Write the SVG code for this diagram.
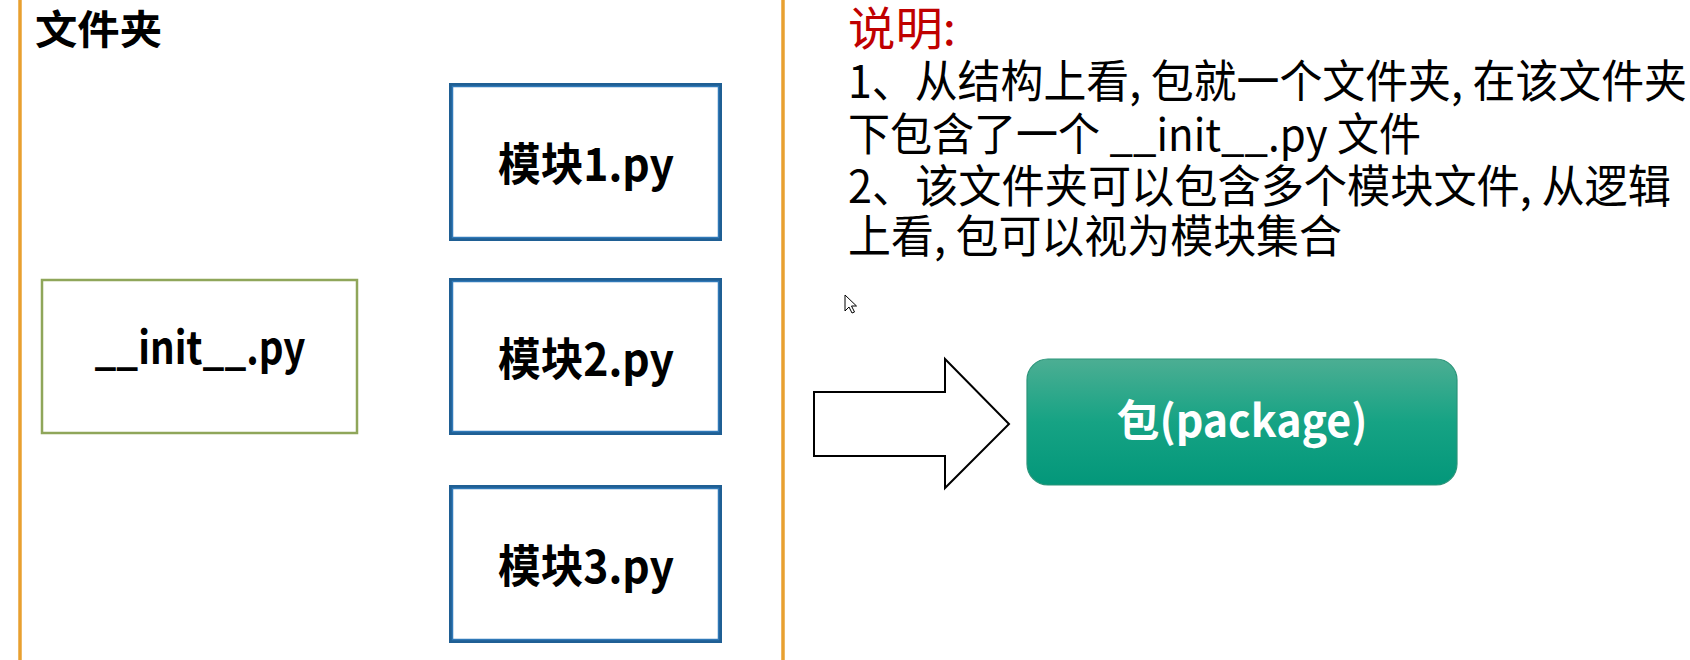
<svg xmlns="http://www.w3.org/2000/svg" width="1690" height="660" viewBox="0 0 1690 660">
  <defs>
    <style>
      .cjk { font-family: "Noto Sans CJK SC", "Noto Sans", sans-serif; }
      .bold { font-weight: bold; }
      .mod { fill: #ffffff; stroke: #1F5F94; stroke-width: 4; }
      .modin { fill: none; stroke: #3079B8; stroke-width: 1.5; }
      .lbl { font-size: 45px; font-weight: bold; fill: #000; text-anchor: middle; }
      .desc { font-size: 45px; fill: #000; }
      .vline { stroke: #E8A030; stroke-width: 3.5; }
    </style>
    <linearGradient id="teal" x1="0" y1="0" x2="0" y2="1">
      <stop offset="0" stop-color="#4CAE93"/>
      <stop offset="0.5" stop-color="#16A384"/>
      <stop offset="1" stop-color="#03977A"/>
    </linearGradient>
  </defs>
  <rect x="0" y="0" width="1690" height="660" fill="#ffffff"/>

  <g id="frame">
    <line class="vline" x1="20" y1="0" x2="20" y2="660"/>
    <line class="vline" x1="783" y1="0" x2="783" y2="660"/>
    <text class="cjk bold" x="35" y="44" font-size="40" textLength="127" lengthAdjust="spacingAndGlyphs">文件夹</text>
  </g>

  <g id="init">
    <rect x="42" y="280" width="315" height="153" fill="#ffffff" stroke="#8FA65A" stroke-width="2.5"/>
    <text class="cjk lbl" x="200" y="364" textLength="211" lengthAdjust="spacingAndGlyphs">__init__.py</text>
  </g>

  <g id="mod1">
    <rect class="mod" x="451" y="85" width="269" height="154"/>
    <rect class="modin" x="452.5" y="86.5" width="266" height="151"/>
    <text class="cjk lbl" x="586" y="181" textLength="176" lengthAdjust="spacingAndGlyphs">模块1.py</text>
  </g>

  <g id="mod2">
    <rect class="mod" x="451" y="280" width="269" height="153"/>
    <rect class="modin" x="452.5" y="281.5" width="266" height="150"/>
    <text class="cjk lbl" x="586" y="376" textLength="176" lengthAdjust="spacingAndGlyphs">模块2.py</text>
  </g>

  <g id="mod3">
    <rect class="mod" x="451" y="487" width="269" height="154"/>
    <rect class="modin" x="452.5" y="488.5" width="266" height="151"/>
    <text class="cjk lbl" x="586" y="583" textLength="176" lengthAdjust="spacingAndGlyphs">模块3.py</text>
  </g>

  <g id="notes">
    <text class="cjk" x="848" y="45" font-size="46" fill="#C00000" textLength="108" lengthAdjust="spacingAndGlyphs">说明:</text>
    <text class="cjk desc" x="848" y="98" textLength="839" lengthAdjust="spacingAndGlyphs">1、从结构上看, 包就一个文件夹, 在该文件夹</text>
    <text class="cjk desc" x="848" y="151" textLength="573" lengthAdjust="spacingAndGlyphs">下包含了一个 __init__.py 文件</text>
    <text class="cjk desc" x="848" y="203" textLength="823" lengthAdjust="spacingAndGlyphs">2、该文件夹可以包含多个模块文件, 从逻辑</text>
    <text class="cjk desc" x="848" y="253" textLength="494" lengthAdjust="spacingAndGlyphs">上看, 包可以视为模块集合</text>
  </g>

  <g id="cursor">
    <path d="M845,295 L845,311 L849,307 L852,313 L854.5,312 L851.5,306 L856.5,306 Z" fill="#ffffff" stroke="#000000" stroke-width="1" stroke-linejoin="miter"/>
  </g>

  <g id="connectors">
    <path d="M814,392 L945,392 L945,359 L1009,424 L945,488 L945,456 L814,456 Z" fill="#ffffff" stroke="#000000" stroke-width="2" stroke-linejoin="miter"/>
  </g>

  <g id="package">
    <rect x="1027" y="359" width="430" height="126" rx="21" ry="21" fill="url(#teal)" stroke="#2A9479" stroke-width="1.2"/>
    <text class="cjk" x="1242" y="437" font-size="44" font-weight="bold" fill="#ffffff" text-anchor="middle" textLength="251" lengthAdjust="spacingAndGlyphs">包(package)</text>
  </g>
</svg>
